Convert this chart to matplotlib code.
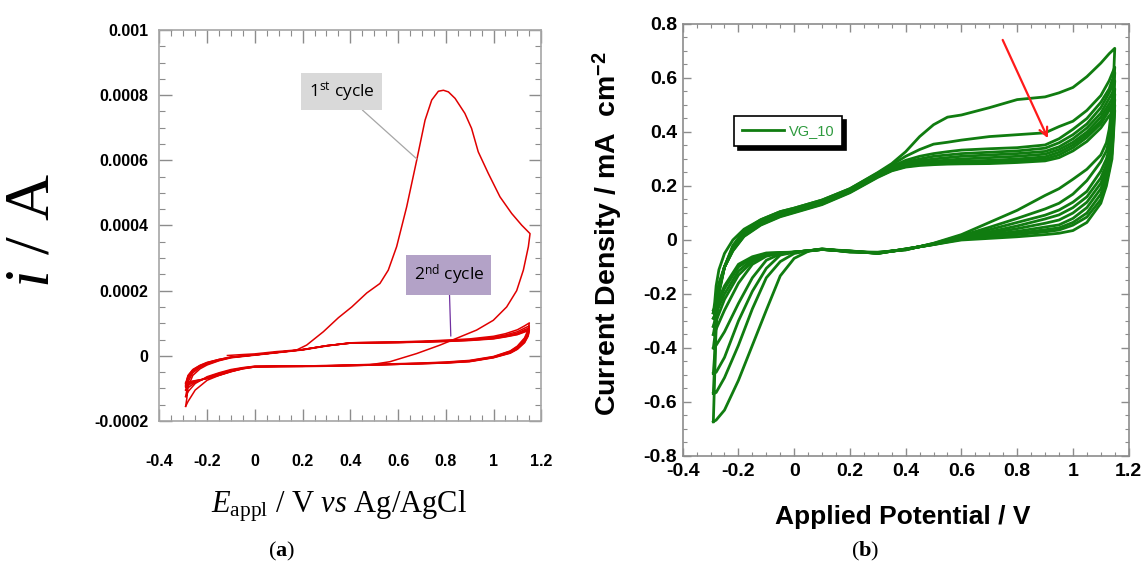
import matplotlib
matplotlib.use("Agg")
import matplotlib.pyplot as plt
from matplotlib.ticker import MultipleLocator, FuncFormatter

plt.rcParams['font.family'] = ['Liberation Sans', 'DejaVu Sans']
plt.rcParams['mathtext.fontset'] = 'custom'
plt.rcParams['mathtext.rm'] = 'Liberation Serif'
plt.rcParams['mathtext.it'] = 'Liberation Serif:italic'
plt.rcParams['mathtext.bf'] = 'Liberation Serif:bold'
plt.rcParams['mathtext.sf'] = 'Liberation Sans:bold'
plt.rcParams['mathtext.tt'] = 'Open Sans'

# ---- panel (a): CV of the bare electrode, current in microamps ----
a_first_fwd_v = [-0.115, -0.05, 0.0, 0.09, 0.175, 0.217, 0.287, 0.35, 0.406, 0.469,
                 0.524, 0.559, 0.594, 0.636, 0.678, 0.713, 0.741, 0.769, 0.79, 0.811,
                 0.839, 0.88, 0.908, 0.936, 0.978, 1.027, 1.076, 1.118, 1.153]
a_first_fwd_i = [1, 4, 6, 13, 18, 33, 74, 117, 150, 193,
                 222, 263, 335, 457, 600, 723, 785, 812, 815, 810,
                 790, 744, 698, 626, 560, 488, 437, 401, 375]
a_first_rev_v = [1.146, 1.125, 1.097, 1.055, 0.999, 0.929, 0.859, 0.776, 0.678, 0.566,
                 0.469, 0.4, 0.3, 0.2, 0.1, 0.0, -0.05, -0.1, -0.15, -0.2,
                 -0.25, -0.28, -0.29]
a_first_rev_i = [335, 263, 200, 150, 109, 79, 58, 33, 7, -18,
                 -29, -30, -32, -33, -33, -34, -40, -48, -60, -75,
                 -105, -140, -155]

a_fwd_v = [-0.29, -0.285, -0.28, -0.26, -0.23, -0.2, -0.15, -0.1, 0.0, 0.1, 0.2, 0.3,
           0.4, 0.5, 0.6, 0.7, 0.8, 0.9, 1.0, 1.05, 1.1, 1.13, 1.15]
a_rev_v = [1.15, 1.145, 1.13, 1.1, 1.07, 1.0, 0.9, 0.8, 0.7, 0.6, 0.5, 0.4,
           0.3, 0.2, 0.1, 0.0, -0.05, -0.1, -0.15, -0.2, -0.25, -0.28, -0.29]

a_fwd_i = [
    [-155, -130, -95, -60, -40, -28, -15, -6, 2, 10, 18, 30, 40, 42, 43, 45, 48, 52, 60, 68, 80, 92, 101],
    [-125, -105, -80, -52, -36, -26, -14, -5, 3, 11, 19, 31, 40, 41, 42, 44, 47, 50, 57, 64, 74, 85, 92],
    [-105, -90, -72, -48, -33, -24, -13, -5, 3, 11, 19, 31, 39, 40, 41, 43, 46, 49, 55, 61, 70, 80, 86],
    [-95, -80, -65, -45, -31, -22, -12, -4, 3, 11, 19, 31, 39, 40, 41, 43, 45, 48, 54, 60, 68, 77, 82],
    [-90, -75, -62, -43, -30, -21, -11, -4, 3, 11, 19, 31, 39, 40, 41, 42, 45, 48, 53, 59, 66, 75, 80],
    [-85, -72, -60, -42, -29, -20, -11, -4, 3, 11, 19, 31, 39, 40, 41, 42, 44, 47, 52, 58, 65, 73, 78],
]
a_rev_i = [
    [101, 80, 55, 30, 15, -2, -14, -19, -22, -24, -26, -28, -30, -31, -31, -32, -36, -42, -52, -64, -85, -110, -125],
    [92, 75, 52, 28, 14, -3, -15, -20, -23, -25, -27, -28, -30, -31, -31, -32, -37, -44, -54, -66, -82, -98, -105],
    [86, 70, 48, 25, 12, -4, -16, -21, -23, -25, -27, -29, -31, -32, -32, -33, -38, -46, -57, -68, -80, -90, -95],
    [82, 66, 45, 23, 10, -5, -17, -21, -24, -26, -28, -29, -31, -32, -32, -33, -38, -47, -58, -69, -78, -86, -90],
    [80, 63, 42, 21, 9, -5, -17, -22, -24, -26, -28, -30, -31, -32, -33, -34, -39, -48, -59, -69, -77, -82, -85],
    [78, 60, 40, 20, 8, -6, -18, -22, -24, -26, -28, -30, -31, -32, -33, -34, -39, -49, -60, -70, -76, -80, -82],
]

# ---- panel (b): VG_10 electrode, current density in mA/cm2 ----
b_fwd_v = [-0.29, -0.285, -0.28, -0.27, -0.25, -0.22, -0.18, -0.12, -0.05, 0.0,
           0.1, 0.2, 0.3, 0.35, 0.4, 0.45, 0.5, 0.55, 0.6, 0.7,
           0.8, 0.9, 0.95, 1.0, 1.05, 1.1, 1.13, 1.15]
b_rev_v = [1.15, 1.145, 1.14, 1.13, 1.12, 1.1, 1.05, 1.0, 0.95, 0.9,
           0.8, 0.7, 0.6, 0.5, 0.4, 0.3, 0.2, 0.1, 0.05, 0.0,
           -0.05, -0.1, -0.15, -0.2, -0.25, -0.28, -0.29]

b_fwd_j = [
    [-0.27, -0.23, -0.17, -0.11, -0.05, 0.0, 0.04, 0.075, 0.105, 0.118, 0.148, 0.19, 0.25, 0.283,
     0.327, 0.383, 0.427, 0.455, 0.463, 0.49, 0.52, 0.53, 0.545, 0.565, 0.605, 0.655, 0.69, 0.71],
    [-0.673, -0.50, -0.32, -0.2, -0.1, -0.02, 0.035, 0.075, 0.105, 0.118, 0.148, 0.19, 0.248, 0.278,
     0.31, 0.335, 0.355, 0.362, 0.37, 0.383, 0.39, 0.397, 0.42, 0.44, 0.48, 0.535, 0.59, 0.64],
    [-0.568, -0.45, -0.30, -0.19, -0.1, -0.025, 0.03, 0.07, 0.10, 0.113, 0.143, 0.187, 0.245, 0.272,
     0.295, 0.31, 0.32, 0.327, 0.333, 0.338, 0.342, 0.352, 0.375, 0.41, 0.45, 0.51, 0.56, 0.62],
    [-0.494, -0.42, -0.29, -0.19, -0.1, -0.03, 0.025, 0.068, 0.098, 0.111, 0.141, 0.185, 0.243, 0.268,
     0.288, 0.3, 0.31, 0.315, 0.32, 0.325, 0.33, 0.34, 0.36, 0.39, 0.43, 0.49, 0.545, 0.59],
    [-0.40, -0.36, -0.28, -0.18, -0.1, -0.03, 0.022, 0.065, 0.095, 0.109, 0.139, 0.183, 0.24, 0.265,
     0.283, 0.293, 0.3, 0.305, 0.31, 0.315, 0.32, 0.328, 0.345, 0.375, 0.415, 0.47, 0.525, 0.56],
    [-0.35, -0.32, -0.26, -0.18, -0.1, -0.035, 0.02, 0.062, 0.093, 0.107, 0.137, 0.181, 0.238, 0.262,
     0.278, 0.287, 0.292, 0.296, 0.3, 0.305, 0.31, 0.318, 0.335, 0.362, 0.4, 0.455, 0.505, 0.54],
    [-0.32, -0.3, -0.25, -0.17, -0.1, -0.035, 0.018, 0.06, 0.09, 0.105, 0.135, 0.179, 0.236, 0.26,
     0.274, 0.282, 0.287, 0.29, 0.292, 0.295, 0.3, 0.308, 0.325, 0.352, 0.39, 0.44, 0.49, 0.52],
    [-0.29, -0.28, -0.24, -0.17, -0.1, -0.04, 0.015, 0.057, 0.088, 0.103, 0.133, 0.177, 0.234, 0.258,
     0.272, 0.279, 0.283, 0.285, 0.287, 0.289, 0.293, 0.3, 0.315, 0.342, 0.38, 0.43, 0.48, 0.50],
    [-0.27, -0.26, -0.23, -0.16, -0.1, -0.04, 0.013, 0.055, 0.086, 0.101, 0.131, 0.175, 0.232, 0.256,
     0.27, 0.276, 0.279, 0.281, 0.282, 0.283, 0.287, 0.293, 0.305, 0.33, 0.365, 0.415, 0.46, 0.48],
]
b_rev_j = [
    [0.71, 0.58, 0.50, 0.41, 0.36, 0.315, 0.262, 0.225, 0.19, 0.165, 0.11, 0.065, 0.02, -0.012,
     -0.037, -0.045, -0.045, -0.033, -0.042, -0.068, -0.133, -0.26, -0.39, -0.52, -0.63, -0.667, -0.673],
    [0.64, 0.55, 0.46, 0.37, 0.33, 0.29, 0.22, 0.17, 0.136, 0.115, 0.08, 0.047, 0.016, -0.013,
     -0.036, -0.046, -0.044, -0.033, -0.04, -0.05, -0.08, -0.14, -0.255, -0.39, -0.51, -0.565, -0.568],
    [0.62, 0.52, 0.42, 0.34, 0.30, 0.255, 0.18, 0.14, 0.111, 0.092, 0.065, 0.038, 0.013, -0.014,
     -0.035, -0.047, -0.043, -0.034, -0.04, -0.045, -0.056, -0.105, -0.19, -0.30, -0.435, -0.49, -0.494],
    [0.59, 0.49, 0.39, 0.32, 0.28, 0.23, 0.16, 0.12, 0.093, 0.078, 0.052, 0.03, 0.011, -0.015,
     -0.035, -0.048, -0.043, -0.035, -0.04, -0.045, -0.052, -0.075, -0.14, -0.235, -0.34, -0.39, -0.40],
    [0.56, 0.46, 0.37, 0.30, 0.26, 0.21, 0.14, 0.10, 0.074, 0.062, 0.042, 0.025, 0.009, -0.015,
     -0.034, -0.048, -0.042, -0.035, -0.04, -0.045, -0.05, -0.06, -0.09, -0.16, -0.26, -0.33, -0.35],
    [0.54, 0.44, 0.35, 0.29, 0.245, 0.19, 0.12, 0.08, 0.056, 0.048, 0.032, 0.02, 0.007, -0.016,
     -0.034, -0.049, -0.042, -0.035, -0.04, -0.045, -0.05, -0.055, -0.08, -0.13, -0.22, -0.30, -0.32],
    [0.52, 0.42, 0.34, 0.27, 0.23, 0.17, 0.10, 0.065, 0.045, 0.038, 0.025, 0.015, 0.005, -0.016,
     -0.034, -0.049, -0.041, -0.035, -0.04, -0.045, -0.048, -0.052, -0.072, -0.115, -0.20, -0.27, -0.29],
    [0.50, 0.40, 0.32, 0.26, 0.215, 0.15, 0.085, 0.055, 0.037, 0.03, 0.02, 0.012, 0.003, -0.017,
     -0.033, -0.05, -0.041, -0.035, -0.04, -0.045, -0.047, -0.05, -0.066, -0.10, -0.18, -0.25, -0.27],
    [0.48, 0.38, 0.30, 0.25, 0.2, 0.136, 0.065, 0.035, 0.025, 0.02, 0.012, 0.006, 0.0, -0.017,
     -0.033, -0.05, -0.04, -0.035, -0.04, -0.045, -0.046, -0.048, -0.062, -0.09, -0.17, -0.24, -0.26],
]

RED = '#e00000'
GREEN = '#107c10'
fmt = FuncFormatter(lambda v, p: '%g' % round(v, 6))

fig = plt.figure(figsize=(11.46, 5.70), dpi=100)
ax_a = fig.add_axes([0.1391, 0.2614, 0.3332, 0.686])
ax_b = fig.add_axes([0.5957, 0.2, 0.3892, 0.7579])

# panel (a)
ua = 1e-6
ax_a.plot(a_first_fwd_v + a_first_rev_v,
          [i * ua for i in a_first_fwd_i + a_first_rev_i], color=RED, lw=1.1)
for fi, ri in zip(a_fwd_i, a_rev_i):
    ax_a.plot(a_fwd_v + a_rev_v, [i * ua for i in fi + ri], color=RED, lw=1.1)

ax_a.set_xlim(-0.4, 1.2)
ax_a.set_ylim(-0.0002, 0.001)
ax_a.xaxis.set_major_locator(MultipleLocator(0.2))
ax_a.xaxis.set_minor_locator(MultipleLocator(0.05))
ax_a.yaxis.set_major_locator(MultipleLocator(0.0002))
ax_a.yaxis.set_minor_locator(MultipleLocator(0.00005))
ax_a.xaxis.set_major_formatter(fmt)
ax_a.yaxis.set_major_formatter(fmt)
ax_a.tick_params(which='both', direction='in', top=True, right=True, color='#8c8c8c')
ax_a.tick_params(which='major', length=9, width=1.0)
ax_a.tick_params(which='minor', length=4, width=0.8)
ax_a.tick_params(axis='x', pad=24, labelsize=11.5)
ax_a.tick_params(axis='y', pad=8, labelsize=11.5)
for s in ax_a.spines.values():
    s.set_color('#a6a6a6')
    s.set_linewidth(1.2)
for lab in ax_a.get_xticklabels() + ax_a.get_yticklabels():
    lab.set_fontweight('bold')

ax_a.set_ylabel(r'$i$ / A', family='Liberation Serif', fontsize=46,
                va='center', ha='center')
ax_a.yaxis.set_label_coords(-0.33, 0.488)
ax_a.set_xlabel(r'$E_{\mathrm{appl}}$ / V $vs$ Ag/AgCl', family='Liberation Serif',
                fontsize=22, va='center', ha='center')
ax_a.xaxis.set_label_coords(0.47, -0.217)

ax_a.annotate(r'1$^{\mathtt{st}}$ cycle', xy=(0.679, 0.000604), xytext=(0.363, 0.000812),
              family='Open Sans', fontsize=12.5, ha='center', va='center',
              bbox=dict(boxstyle='square,pad=0.42', fc='#d9d9d9', ec='none'),
              arrowprops=dict(arrowstyle='-', color='#a6a6a6', lw=0.9,
                              shrinkA=0, shrinkB=0))
ax_a.annotate(r'2$^{\mathtt{nd}}$ cycle', xy=(0.821, 0.0000605), xytext=(0.813, 0.000248),
              family='Open Sans', fontsize=12.5, ha='center', va='center',
              bbox=dict(boxstyle='square,pad=0.42', fc='#b3a2c7', ec='none'),
              arrowprops=dict(arrowstyle='-', color='#7030a0', lw=0.9,
                              shrinkA=0, shrinkB=0))

# panel (b)
lines = []
for fj, rj in zip(b_fwd_j, b_rev_j):
    ln, = ax_b.plot(b_fwd_v + b_rev_v, fj + rj, color=GREEN, lw=2.0)
    lines.append(ln)

ax_b.set_xlim(-0.4, 1.2)
ax_b.set_ylim(-0.8, 0.8)
ax_b.xaxis.set_major_locator(MultipleLocator(0.2))
ax_b.xaxis.set_minor_locator(MultipleLocator(0.05))
ax_b.yaxis.set_major_locator(MultipleLocator(0.2))
ax_b.yaxis.set_minor_locator(MultipleLocator(0.05))
ax_b.xaxis.set_major_formatter(fmt)
ax_b.yaxis.set_major_formatter(fmt)
ax_b.tick_params(which='both', direction='in', top=True, right=True, color='#8c8c8c')
ax_b.tick_params(which='major', length=6, width=1.0)
ax_b.tick_params(which='minor', length=3, width=0.8)
ax_b.tick_params(axis='x', pad=5, labelsize=14)
ax_b.tick_params(axis='y', pad=4, labelsize=14)
for s in ax_b.spines.values():
    s.set_color('#8c8c8c')
    s.set_linewidth(1.2)
for lab in ax_b.get_xticklabels() + ax_b.get_yticklabels():
    lab.set_fontweight('bold')

ax_b.set_ylabel(r'Current Density / mA  cm$^{\mathsf{-2}}$', fontsize=20.5,
                fontweight='bold', va='center', ha='center')
ax_b.yaxis.set_label_coords(-0.17, 0.515)
ax_b.set_xlabel('Applied Potential / V', fontsize=19, fontweight='bold',
                va='center', ha='center')
ax_b.xaxis.set_label_coords(0.494, -0.141)

leg = ax_b.legend([lines[0]], ['VG_10'], loc='upper left', bbox_to_anchor=(0.115, 0.787),
                  fontsize=10.5, frameon=True, fancybox=False,
                  shadow={'color': 'black', 'alpha': 1.0, 'ox': 3, 'oy': -3},
                  handlelength=2.9, handletextpad=0.3, borderpad=0.55,
                  labelcolor='#2e9a3e', borderaxespad=0)
leg.get_frame().set_edgecolor('black')
leg.get_frame().set_linewidth(1.2)

ax_b.annotate('', xy=(0.910, 0.377), xytext=(0.748, 0.741),
              arrowprops=dict(arrowstyle='->,head_length=0.6,head_width=0.3',
                              color='#ff1a1a', lw=1.6, shrinkA=0, shrinkB=0))

fig.text(282 / 1146, 1 - 551 / 570, r'($\mathbf{a}$)', family='Liberation Serif',
         fontsize=16, ha='center', va='center')
fig.text(865 / 1146, 1 - 551 / 570, r'($\mathbf{b}$)', family='Liberation Serif',
         fontsize=16, ha='center', va='center')

fig.savefig('out.png', dpi=100)
